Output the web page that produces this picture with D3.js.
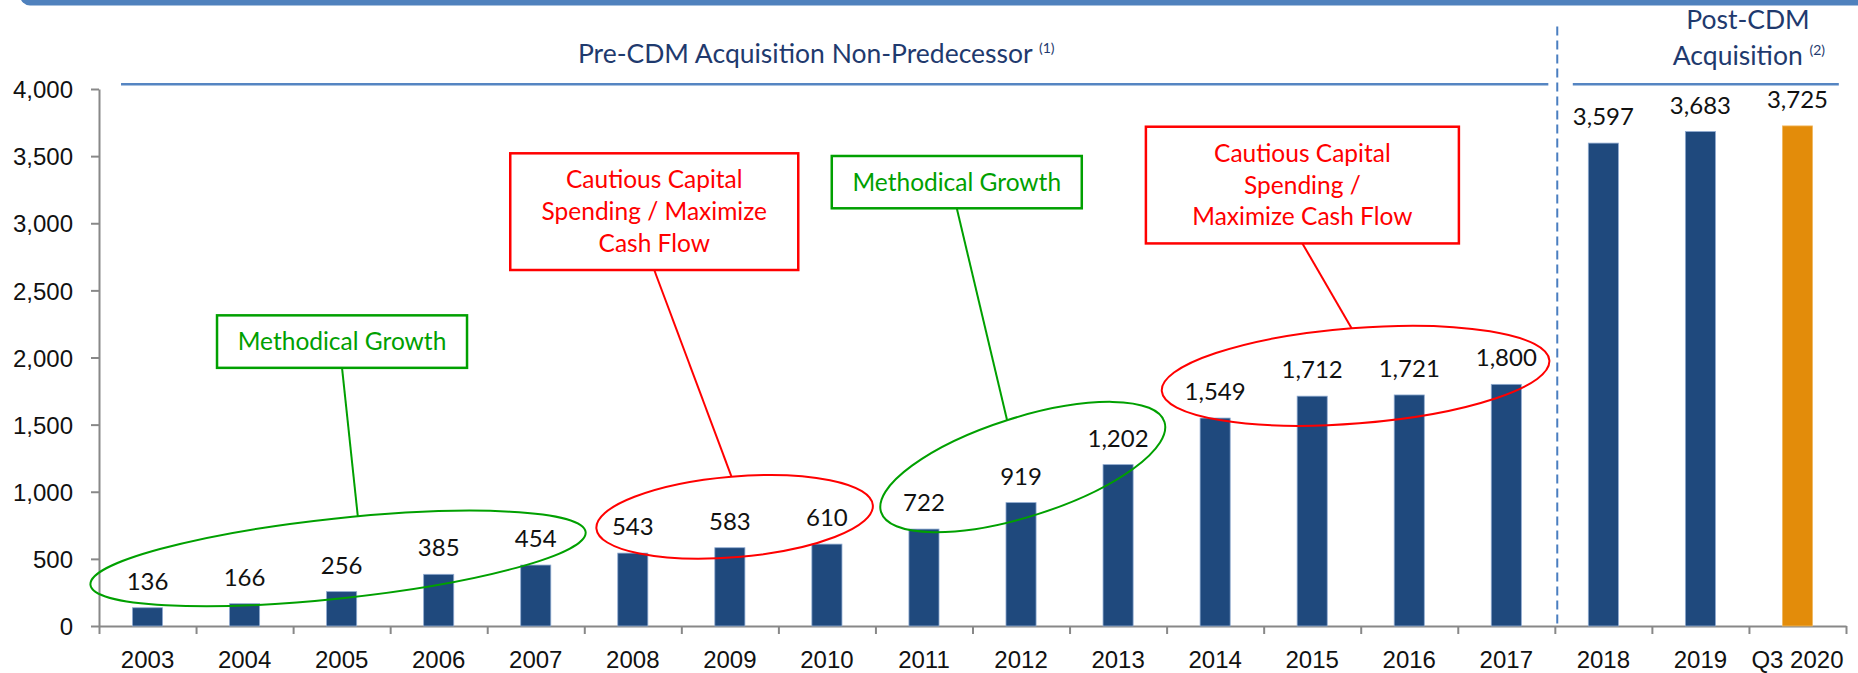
<!DOCTYPE html>
<html>
<head>
<meta charset="utf-8">
<script src="https://cdn.jsdelivr.net/npm/d3@7"></script>
<style>
  body { margin: 0; background: #fff; }
  svg { font-family: Lato, "Open Sans", sans-serif; }
  .axis path, .axis line { stroke: #888; stroke-width: 2; }
  .axis text { font-size: 24px; fill: #111; }
</style>
</head>
<body>
<div id="chart"></div>
<script>
// categories and values
const categories = ["2003", "2004", "2005", "2006", "2007", "2008", "2009", "2010", "2011",
  "2012", "2013", "2014", "2015", "2016", "2017", "2018", "2019", "Q3 2020"];
const values = [136, 166, 256, 385, 454, 543, 583, 610, 722, 919, 1202, 1549, 1712, 1721, 1800,
  3597, 3683, 3725];
const highlightCategory = "Q3 2020";
const yTicks = [0, 500, 1000, 1500, 2000, 2500, 3000, 3500, 4000];

// callout texts
const calloutTexts = [
  ["Methodical Growth"],
  ["Cautious Capital", "Spending / Maximize", "Cash Flow"],
  ["Methodical Growth"],
  ["Cautious Capital", "Spending /", "Maximize Cash Flow"]
];

const totalWidth = 1858, totalHeight = 673;
const margin = { top: 89, right: 12, bottom: 47, left: 99 };
const width = totalWidth - margin.left - margin.right;
const height = totalHeight - margin.top - margin.bottom;

const svgContainer = d3.select("#chart").append("svg")
    .attr("width", totalWidth)
    .attr("height", totalHeight);

// top banner
svgContainer.append("rect")
    .attr("x", 20).attr("y", -20)
    .attr("width", totalWidth + 20).attr("height", 25.5)
    .attr("rx", 10)
    .attr("fill", "#4F81BD");

const svg = svgContainer.append("g")
    .attr("transform", "translate(" + margin.left + "," + margin.top + ")");

// scales
const xScale = d3.scaleBand()
    .domain(categories)
    .range([0, width])
    .paddingInner(0.69)
    .paddingOuter(0.345);

// position along the axis in category units (0 = left edge)
const xPos = d3.scaleLinear()
    .domain([0, categories.length])
    .range([0, width]);

const yScale = d3.scaleLinear()
    .domain([0, 4000])
    .range([height, 0]);

// axes
const yAxis = d3.axisLeft(yScale)
    .tickValues(yTicks)
    .tickFormat(d3.format(","))
    .tickSize(8)
    .tickSizeOuter(0)
    .tickPadding(18);

svg.append("g")
    .attr("class", "axis axis--y")
    .call(yAxis)
    .selectAll("text")
      .attr("dy", "0.36em");

// x axis: tick marks between categories, labels centred on the bands
const xTickAxis = d3.axisBottom(xPos)
    .tickValues(d3.range(categories.length + 1))
    .tickFormat("")
    .tickSize(8)
    .tickSizeOuter(0);

svg.append("g")
    .attr("class", "axis axis--x")
    .attr("transform", "translate(0," + height + ")")
    .call(xTickAxis);

const xLabelAxis = d3.axisBottom(xScale).tickSize(0);
const xLabels = svg.append("g")
    .attr("class", "axis axis--xlabels")
    .attr("transform", "translate(0," + height + ")")
    .call(xLabelAxis);
xLabels.select(".domain").remove();
xLabels.selectAll("text")
    .attr("y", 42)
    .attr("dy", null);

// bars
const data = categories.map((c, i) => ({ category: c, value: values[i] }));

svg.selectAll(".bar")
    .data(data)
  .enter().append("rect")
    .attr("class", "bar")
    .attr("x", d => xScale(d.category))
    .attr("y", d => yScale(d.value))
    .attr("width", xScale.bandwidth())
    .attr("height", d => height - yScale(d.value))
    .attr("fill", d => d.category === highlightCategory ? "#E38C0A" : "#1F497D")
    .attr("stroke", d => d.category === highlightCategory ? "#F0B860" : "#8FAAD0")
    .attr("stroke-width", 0.8);

// data labels
svg.selectAll(".value-label")
    .data(data)
  .enter().append("text")
    .attr("class", "value-label")
    .attr("x", d => xScale(d.category) + xScale.bandwidth() / 2)
    .attr("y", d => yScale(d.value) - 18)
    .attr("text-anchor", "middle")
    .attr("font-size", 24)
    .attr("fill", "#111")
    .text(d => d3.format(",")(d.value));

// section headers
const headerColor = "#1F3A6E";
const lineColor = "#5585C2";

const preTitle = svg.append("text")
    .attr("x", xPos(7.39))
    .attr("y", yScale(4196))
    .attr("text-anchor", "middle")
    .attr("fill", headerColor)
    .attr("font-size", 26.5);
preTitle.append("tspan").text("Pre-CDM Acquisition Non-Predecessor ");
preTitle.append("tspan").attr("font-size", 14).attr("dy", -10).text("(1)");

svg.append("text")
    .attr("x", xPos(16.99))
    .attr("y", yScale(4445))
    .attr("text-anchor", "middle")
    .attr("fill", headerColor)
    .attr("font-size", 26.5)
    .text("Post-CDM");

const postTitle = svg.append("text")
    .attr("x", xPos(17.0))
    .attr("y", yScale(4179))
    .attr("text-anchor", "middle")
    .attr("fill", headerColor)
    .attr("font-size", 26.5);
postTitle.append("tspan").text("Acquisition ");
postTitle.append("tspan").attr("font-size", 14).attr("dy", -10).text("(2)");

svg.append("line")
    .attr("x1", xPos(0.227)).attr("x2", xPos(14.933))
    .attr("y1", yScale(4035)).attr("y2", yScale(4035))
    .attr("stroke", lineColor).attr("stroke-width", 2.5);

svg.append("line")
    .attr("x1", xPos(15.185)).attr("x2", xPos(17.926))
    .attr("y1", yScale(4035)).attr("y2", yScale(4035))
    .attr("stroke", lineColor).attr("stroke-width", 2.5);

// divider between the two periods
svg.append("line")
    .attr("x1", xPos(15.025)).attr("x2", xPos(15.025))
    .attr("y1", yScale(4465)).attr("y2", yScale(0))
    .attr("stroke", "#4A7EC0")
    .attr("stroke-width", 2)
    .attr("stroke-dasharray", "9,5");

// callouts: box (centre index, top value, size), ellipse (centre, radii, angle), connector end
const calloutLayout = [
  { color: "#00A000", box: { i: 2.504, v: 2314, w: 250, h: 52.5 },
    ellipse: { i: 2.463, v: 503, rx: 249, ry: 40, angle: -6.1 }, end: { i: 2.667, v: 814 } },
  { color: "#FF0000", box: { i: 5.721, v: 3521, w: 288, h: 116.7 },
    ellipse: { i: 6.549, v: 813, rx: 138.7, ry: 40.3, angle: -4.84 }, end: { i: 6.515, v: 1117 } },
  { color: "#00A000", box: { i: 8.838, v: 3501, w: 250, h: 52.3 },
    ellipse: { i: 9.518, v: 1184, rx: 148.7, ry: 49.4, angle: -17.65 }, end: { i: 9.356, v: 1534 } },
  { color: "#FF0000", box: { i: 12.399, v: 3719, w: 313, h: 116.7 },
    ellipse: { i: 12.947, v: 1864, rx: 194.4, ry: 47.7, angle: -4.54 }, end: { i: 12.906, v: 2217 } }
];

const callouts = svg.selectAll(".callout")
    .data(calloutLayout)
  .enter().append("g")
    .attr("class", "callout");

callouts.append("ellipse")
    .attr("transform", d => "translate(" + xPos(d.ellipse.i) + "," + yScale(d.ellipse.v) + ") rotate(" + d.ellipse.angle + ")")
    .attr("rx", d => d.ellipse.rx)
    .attr("ry", d => d.ellipse.ry)
    .attr("fill", "none")
    .attr("stroke", d => d.color)
    .attr("stroke-width", 2);

callouts.append("line")
    .attr("x1", d => xPos(d.box.i))
    .attr("y1", d => yScale(d.box.v) + d.box.h)
    .attr("x2", d => xPos(d.end.i))
    .attr("y2", d => yScale(d.end.v))
    .attr("stroke", d => d.color)
    .attr("stroke-width", 2);

callouts.append("rect")
    .attr("x", d => xPos(d.box.i) - d.box.w / 2)
    .attr("y", d => yScale(d.box.v))
    .attr("width", d => d.box.w)
    .attr("height", d => d.box.h)
    .attr("fill", "#fff")
    .attr("stroke", d => d.color)
    .attr("stroke-width", 2.5);

callouts.each(function(d, k) {
  const t = d3.select(this).append("text")
      .attr("text-anchor", "middle")
      .attr("font-size", 24.5)
      .attr("fill", d.color);
  calloutTexts[k].forEach((line, j) => {
    t.append("tspan")
        .attr("x", xPos(d.box.i))
        .attr("y", yScale(d.box.v) + 35 + j * 31.8)
        .text(line);
  });
});
</script>
</body>
</html>
